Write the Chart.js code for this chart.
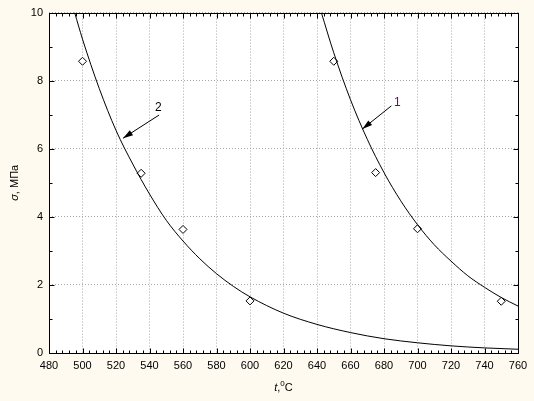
<!DOCTYPE html>
<html>
<head>
<meta charset="utf-8">
<script src="https://cdn.jsdelivr.net/npm/chart.js@4.4.1/dist/chart.umd.min.js"></script>
<style>
    html, body { margin: 0; padding: 0; background: #fffaf0; }
    canvas { display: block; }
</style>
</head>
<body>
<canvas id="grafico" width="534" height="401"></canvas>
<script>
// experimental points (diamonds)
const puntosX1 = [650, 675, 700, 750];
const puntosY1 = [8.57, 5.3, 3.65, 1.52];
const puntosX2 = [500, 535, 560, 600];
const puntosY2 = [8.57, 5.28, 3.63, 1.53];

// fitted curves
const curvaX1 = [642.6, 650, 660, 670, 680, 690, 700, 710, 720, 730, 740, 750, 760];
const curvaY1 = [10, 8.82, 7.44, 6.28, 5.3, 4.47, 3.77, 3.18, 2.7, 2.27, 1.93, 1.63, 1.38];
const curvaX2 = [495.3, 500, 510, 520, 530, 540, 550, 560, 570, 580, 590, 600, 620, 640, 660, 680, 700, 720, 740, 760];
const curvaY2 = [10, 9.22, 7.77, 6.54, 5.55, 4.67, 3.9, 3.29, 2.77, 2.33, 1.96, 1.65, 1.17, 0.84, 0.6, 0.42, 0.3, 0.21, 0.15, 0.11];

// axes
const ticksX = [480, 500, 520, 540, 560, 580, 600, 620, 640, 660, 680, 700, 720, 740, 760];
const ticksY = [0, 2, 4, 6, 8, 10];
const menorX = 4;   // minor tick step
const menorY = 1;

// curve labels with arrows (data units)
const etiquetas = ["1", "2"];
const etiquetaX = [687.9, 545.3];
const etiquetaY = [7.36, 7.22];
const flechaDesdeX = [684.4, 545.7];
const flechaDesdeY = [7.26, 6.99];
const flechaHastaX = [667.1, 524.2];
const flechaHastaY = [6.58, 6.31];
const coloresEtiqueta = ["#800080", "#000000"];

const fuente = "'Liberation Sans', Arial, sans-serif";

function pares(xs, ys) {
    return xs.map((x, i) => ({ x: x, y: ys[i] }));
}

const fondoPlot = {
    id: 'fondoPlot',
    beforeDraw(chart) {
        const a = chart.chartArea;
        const ctx = chart.ctx;
        ctx.save();
        ctx.fillStyle = '#ffffff';
        ctx.fillRect(a.left, a.top, a.right - a.left, a.bottom - a.top);
        ctx.restore();
    }
};

const marco = {
    id: 'marco',
    afterDraw(chart) {
        const a = chart.chartArea;
        const ctx = chart.ctx;
        const sx = chart.scales.x, sy = chart.scales.y;
        const L = Math.round(a.left) + 0.5, R = Math.round(a.right) + 0.5;
        const T = Math.round(a.top) + 0.5, B = Math.round(a.bottom) + 0.5;
        ctx.save();
        ctx.strokeStyle = '#000';
        ctx.lineWidth = 1;
        ctx.beginPath();
        // inward ticks on all four sides
        for (let v = sx.min; v <= sx.max + 0.001; v += menorX) {
            const p = Math.round(sx.getPixelForValue(v)) + 0.5;
            const largo = ticksX.includes(Math.round(v)) ? 5 : 3;
            ctx.moveTo(p, B); ctx.lineTo(p, B - largo);
            ctx.moveTo(p, T); ctx.lineTo(p, T + largo);
        }
        for (let v = sy.min; v <= sy.max + 0.001; v += menorY) {
            const p = Math.round(sy.getPixelForValue(v)) + 0.5;
            const largo = ticksY.includes(Math.round(v)) ? 5 : 3;
            ctx.moveTo(L, p); ctx.lineTo(L + largo, p);
            ctx.moveTo(R, p); ctx.lineTo(R - largo, p);
        }
        ctx.stroke();
        ctx.strokeRect(L, T, R - L, B - T);

        // arrows and labels
        for (let i = 0; i < etiquetas.length; i++) {
            const x0 = sx.getPixelForValue(flechaDesdeX[i]), y0 = sy.getPixelForValue(flechaDesdeY[i]);
            const x1 = sx.getPixelForValue(flechaHastaX[i]), y1 = sy.getPixelForValue(flechaHastaY[i]);
            const ang = Math.atan2(y1 - y0, x1 - x0);
            ctx.beginPath();
            ctx.moveTo(x0, y0); ctx.lineTo(x1, y1);
            ctx.stroke();
            ctx.beginPath();
            ctx.moveTo(x1, y1);
            ctx.lineTo(x1 - 10 * Math.cos(ang) + 3 * Math.sin(ang), y1 - 10 * Math.sin(ang) - 3 * Math.cos(ang));
            ctx.lineTo(x1 - 10 * Math.cos(ang) - 3 * Math.sin(ang), y1 - 10 * Math.sin(ang) + 3 * Math.cos(ang));
            ctx.closePath();
            ctx.fillStyle = '#000';
            ctx.fill();

            ctx.fillStyle = coloresEtiqueta[i];
            ctx.font = '12px ' + fuente;
            ctx.textAlign = 'center';
            ctx.textBaseline = 'middle';
            ctx.fillText(etiquetas[i], sx.getPixelForValue(etiquetaX[i]), sy.getPixelForValue(etiquetaY[i]));
        }

        // axis titles
        ctx.fillStyle = '#000';
        ctx.textBaseline = 'alphabetic';
        ctx.textAlign = 'left';
        const cx = (a.left + a.right) / 2;
        const partes = [
            { t: 't', f: 'italic 11px ' + fuente, dy: 0 },
            { t: ',', f: '11px ' + fuente, dy: 0 },
            { t: '0', f: '8px ' + fuente, dy: -5 },
            { t: 'C', f: '11px ' + fuente, dy: 0 }
        ];
        let ancho = 0;
        for (const p of partes) { ctx.font = p.f; ancho += ctx.measureText(p.t).width; }
        let x = cx - ancho / 2;
        for (const p of partes) {
            ctx.font = p.f;
            ctx.fillText(p.t, x, 391 + p.dy);
            x += ctx.measureText(p.t).width;
        }

        ctx.translate(18, (a.top + a.bottom) / 2);
        ctx.rotate(-Math.PI / 2);
        const partesY = [
            { t: 'σ', f: 'italic 11px ' + fuente },
            { t: ', МПа', f: '11px ' + fuente }
        ];
        ancho = 0;
        for (const p of partesY) { ctx.font = p.f; ancho += ctx.measureText(p.t).width; }
        x = -ancho / 2;
        for (const p of partesY) {
            ctx.font = p.f;
            ctx.fillText(p.t, x, 0);
            x += ctx.measureText(p.t).width;
        }
        ctx.restore();
    }
};

new Chart(document.getElementById('grafico'), {
    type: 'scatter',
    data: {
        datasets: [
            {
                label: 'curva 1',
                data: pares(curvaX1, curvaY1),
                showLine: true,
                borderColor: '#000',
                borderWidth: 1,
                pointRadius: 0,
                cubicInterpolationMode: 'monotone'
            },
            {
                label: 'curva 2',
                data: pares(curvaX2, curvaY2),
                showLine: true,
                borderColor: '#000',
                borderWidth: 1,
                pointRadius: 0,
                cubicInterpolationMode: 'monotone'
            },
            {
                label: 'puntos 1',
                data: pares(puntosX1, puntosY1),
                pointStyle: 'rectRot',
                pointRadius: 4,
                borderColor: '#000',
                borderWidth: 1,
                backgroundColor: '#ffffff'
            },
            {
                label: 'puntos 2',
                data: pares(puntosX2, puntosY2),
                pointStyle: 'rectRot',
                pointRadius: 4,
                borderColor: '#000',
                borderWidth: 1,
                backgroundColor: '#ffffff'
            }
        ]
    },
    options: {
        responsive: false,
        animation: false,
        devicePixelRatio: 1,
        layout: { padding: { top: 10, right: 16, left: 0, bottom: 0 } },
        plugins: {
            legend: { display: false },
            tooltip: { enabled: false }
        },
        scales: {
            x: {
                type: 'linear',
                min: 480,
                max: 760,
                afterFit(scale) { scale.height = 48; },
                afterBuildTicks(scale) { scale.ticks = ticksX.map(v => ({ value: v })); },
                grid: { color: '#a8a8a8', lineWidth: 1, drawTicks: false },
                border: { display: false, dash: [1, 2] },
                ticks: { padding: 6, color: '#000', font: { family: fuente, size: 11 }, maxRotation: 0 }
            },
            y: {
                type: 'linear',
                min: 0,
                max: 10,
                afterFit(scale) { scale.width = 49; },
                afterBuildTicks(scale) { scale.ticks = ticksY.map(v => ({ value: v })); },
                grid: { color: '#a8a8a8', lineWidth: 1, drawTicks: false },
                border: { display: false, dash: [1, 2] },
                ticks: { padding: 6, color: '#000', font: { family: fuente, size: 11 } }
            }
        }
    },
    plugins: [fondoPlot, marco]
});
</script>
</body>
</html>
